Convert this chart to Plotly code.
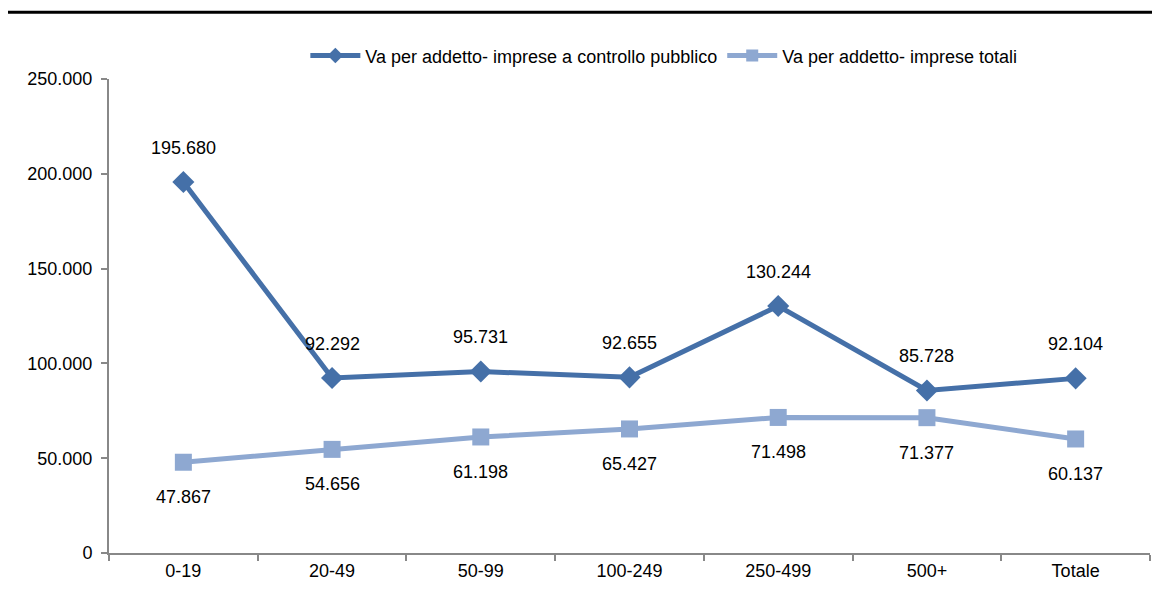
import plotly.graph_objects as go

categories = ["0-19", "20-49", "50-99", "100-249", "250-499", "500+", "Totale"]
pubblico = [195680, 92292, 95731, 92655, 130244, 85728, 92104]
totali = [47867, 54656, 61198, 65427, 71498, 71377, 60137]
name_pub = "Va per addetto- imprese a controllo pubblico"
name_tot = "Va per addetto- imprese totali"

def fmt(v):
    return f"{v:,}".replace(",", ".")

FONT = "Liberation Sans Narrow, Arial Narrow, Liberation Sans, Arial"
C_PUB = "#4570A8"
C_TOT = "#8EA8D1"

fig = go.Figure()
fig.add_trace(go.Scatter(
    x=categories, y=pubblico, name=name_pub, mode="lines+markers",
    line=dict(color=C_PUB, width=5),
    marker=dict(symbol="diamond", size=17, color=C_PUB),
))
fig.add_trace(go.Scatter(
    x=categories, y=totali, name=name_tot + "  ", mode="lines+markers",
    line=dict(color=C_TOT, width=5),
    marker=dict(symbol="square", size=17, color=C_TOT),
))
fig.data[1].name = name_tot

annotations = []
for c, v in zip(categories, pubblico):
    annotations.append(dict(x=c, y=v, text=fmt(v), showarrow=False, yshift=34,
                            font=dict(family=FONT, size=18, color="#000")))
for c, v in zip(categories, totali):
    annotations.append(dict(x=c, y=v, text=fmt(v), showarrow=False, yshift=-35,
                            font=dict(family=FONT, size=18, color="#000")))

fig.update_layout(
    width=1152, height=600,
    paper_bgcolor="white", plot_bgcolor="white",
    margin=dict(l=101, r=10, t=71, b=55),
    font=dict(family=FONT, size=18, color="#000"),
    separators=",.",
    showlegend=True,
    legend=dict(orientation="h", x=0.533, xanchor="center", y=1.049, yanchor="middle",
                font=dict(family=FONT, size=18), traceorder="normal",
                itemsizing="constant", itemwidth=50),
    annotations=annotations,
    shapes=[dict(type="line", xref="paper", yref="paper",
                 x0=-0.101, x1=1.01, y0=1.141, y1=1.141,
                 line=dict(color="#000", width=3))],
)
fig.update_xaxes(
    range=[-0.5, len(categories) - 0.5],
    showline=True, linecolor="#888", linewidth=2,
    ticks="outside", tickson="boundaries", ticklen=6, tickcolor="#888", tickwidth=2,
    showgrid=False, tickfont=dict(family=FONT, size=18),
)
fig.update_yaxes(
    range=[0, 250000], dtick=50000, tickformat=",d",
    showline=True, linecolor="#888", linewidth=2,
    ticks="outside", ticklen=6, tickcolor="#888", tickwidth=2,
    ticklabelstandoff=5,
    showgrid=False, zeroline=False, tickfont=dict(family=FONT, size=18),
)

fig.write_html("out.html")
